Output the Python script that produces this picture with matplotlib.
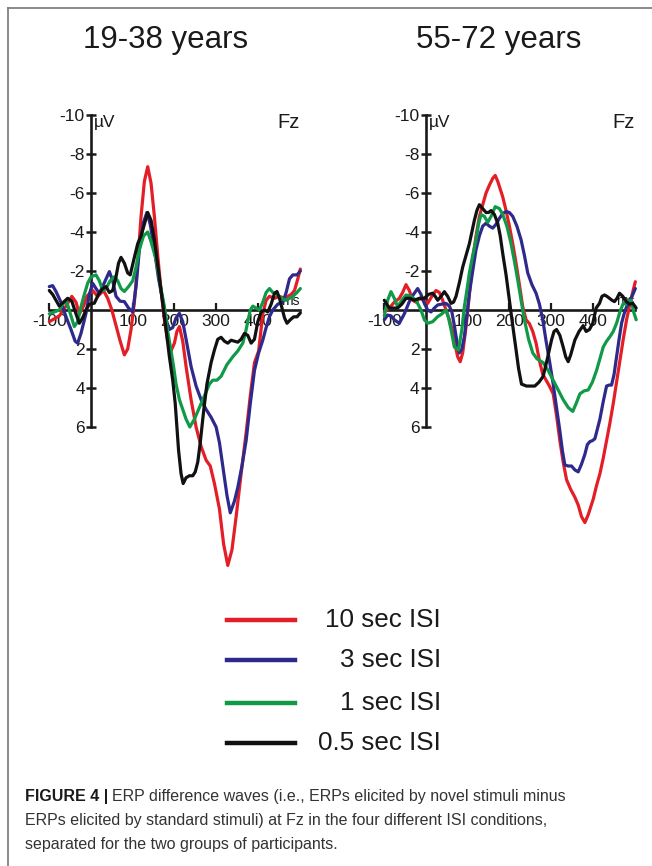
import matplotlib
matplotlib.use("Agg")
import matplotlib.pyplot as plt
from matplotlib.lines import Line2D
from matplotlib import font_manager

plt.rcParams['font.family'] = ['Liberation Sans', 'DejaVu Sans']

# ---- data (ms, µV) ----
young_10s_t = [-100, -88, -76, -60, -46, -36, -28, -18, -10, 4, 16, 30, 40, 50, 60, 70, 80, 88, 96, 104, 112, 120,
               128, 136, 144, 152, 160, 168, 176, 184, 192, 200, 206, 212, 220, 228, 240, 252, 264, 276, 286, 296,
               308, 318, 328, 338, 348, 360, 372, 382, 392, 402, 412, 420, 428, 440, 452, 464, 472, 480, 488, 496, 502]
young_10s_v = [0.6, 0.45, 0.3, -0.2, -0.7, -0.4, 0.2, -0.2, -0.7, -1.0, -0.7, -1.0, -0.6, 0.0, 0.8, 1.6, 2.3, 2.0,
               1.0, -0.4, -2.4, -4.8, -6.6, -7.35, -6.5, -4.8, -2.8, -1.0, 0.5, 1.6, 2.1, 1.7, 1.1, 0.85, 1.6, 2.9,
               4.6, 6.0, 7.0, 7.7, 8.0, 8.9, 10.2, 12.0, 13.1, 12.3, 10.6, 8.4, 6.3, 4.4, 2.7, 2.1, 0.2, -0.5, -0.7,
               -0.6, -0.7, -0.6, -0.7, -0.8, -1.0, -1.6, -2.1]

young_3s_t = [-100, -92, -84, -72, -60, -48, -38, -32, -24, -12, -4, 4, 12, 20, 32, 44, 52, 60, 70, 80, 90, 100,
              108, 116, 126, 134, 142, 152, 162, 172, 180, 188, 196, 204, 212, 220, 228, 240, 252, 264, 276, 288,
              300, 308, 316, 326, 334, 344, 352, 362, 372, 382, 392, 402, 412, 420, 428, 436, 448, 460, 468, 476,
              484, 494, 502]
young_3s_v = [-1.2, -1.25, -0.95, -0.4, 0.34, 1.0, 1.6, 1.7, 1.2, 0.17, -0.8, -1.37, -1.1, -0.85, -1.4, -1.97, -1.5,
              -0.7, -0.45, -0.43, -0.1, 0.1, -1.2, -3.1, -4.5, -5.0, -4.4, -3.1, -1.6, -0.5, 0.5, 1.0, 0.9, 0.4,
              0.17, 0.6, 1.5, 2.9, 3.9, 4.6, 5.1, 5.5, 6.0, 6.8, 8.0, 9.5, 10.4, 9.8, 9.1, 8.0, 6.7, 4.8, 3.1, 2.2,
              1.54, 0.9, 0.34, 0.0, -0.3, -0.4, -0.9, -1.6, -1.8, -1.8, -2.0]

young_1s_t = [-100, -88, -76, -66, -58, -48, -40, -32, -24, -16, -8, 0, 12, 20, 28, 36, 46, 56, 64, 72, 80, 90,
              100, 108, 116, 126, 136, 144, 156, 166, 176, 184, 192, 198, 204, 212, 220, 228, 237, 248, 260, 272,
              284, 292, 302, 312, 326, 340, 352, 364, 370, 376, 382, 388, 396, 404, 412, 420, 428, 436, 444, 456,
              468, 476, 484, 494, 502]
young_1s_v = [0.2, 0.1, 0.0, -0.35, -0.4, 0.3, 0.85, 0.6, -0.17, -0.8, -1.37, -1.7, -1.8, -1.5, -1.0, -1.1, -1.5,
              -1.7, -1.5, -1.1, -0.95, -1.2, -1.5, -2.2, -3.1, -3.8, -4.0, -3.5, -2.6, -1.3, -0.17, 1.1, 2.1, 2.9,
              3.8, 4.6, 5.1, 5.6, 6.0, 5.6, 5.0, 4.4, 3.8, 3.6, 3.6, 3.4, 2.8, 2.4, 2.1, 1.7, 1.2, 0.6, 0.0, -0.2,
              -0.1, 0.0, -0.4, -0.9, -1.1, -0.9, -0.85, -0.6, -0.5, -0.6, -0.7, -0.9, -1.1]

young_05s_t = [-100, -92, -84, -76, -66, -56, -46, -36, -28, -20, -12, -4, 8, 18, 28, 36, 44, 52, 60, 66, 72, 80,
               88, 94, 104, 112, 120, 128, 136, 144, 152, 162, 172, 180, 188, 196, 202, 210, 216, 221, 228, 236,
               244, 250, 256, 262, 270, 278, 288, 296, 304, 312, 320, 328, 336, 344, 352, 360, 368, 376, 384, 392,
               400, 408, 416, 424, 432, 440, 446, 452, 458, 464, 470, 478, 486, 494, 502]
young_05s_v = [-1.0, -0.8, -0.5, -0.2, -0.4, -0.6, -0.45, 0.2, 0.68, 0.4, 0.0, -0.3, -0.35, -0.8, -1.1, -1.2, -0.9,
               -1.0, -1.7, -2.4, -2.7, -2.4, -1.9, -1.8, -2.7, -3.4, -3.8, -4.4, -5.0, -4.6, -3.6, -2.0, -0.34, 1.0,
               2.4, 3.6, 4.8, 7.2, 8.4, 8.9, 8.6, 8.5, 8.5, 8.3, 7.8, 6.8, 5.2, 3.8, 2.7, 2.05, 1.5, 1.4, 1.6, 1.7,
               1.55, 1.6, 1.65, 1.5, 1.2, 1.3, 1.7, 1.5, 0.6, 0.1, 0.0, 0.1, -0.3, -0.85, -0.95, -0.6, -0.1, 0.4,
               0.68, 0.5, 0.35, 0.35, 0.15]

old_10s_t = [-100, -88, -76, -64, -56, -48, -40, -32, -24, -16, -6, 4, 14, 24, 32, 40, 48, 56, 64, 70, 76, 82, 88,
             96, 104, 112, 120, 128, 136, 144, 152, 160, 166, 172, 178, 184, 192, 200, 208, 216, 224, 232, 240,
             248, 256, 264, 272, 280, 288, 296, 305, 313, 321, 329, 337, 347, 357, 365, 373, 381, 389, 401, 409,
             417, 425, 433, 441, 449, 457, 465, 473, 481, 488, 496, 502]
old_10s_v = [0.1, -0.1, -0.4, -0.6, -0.9, -1.3, -1.0, -0.5, -0.4, -0.6, -0.5, -0.34, -0.7, -1.0, -0.9, -0.5, 0.0,
             0.5, 1.1, 1.8, 2.4, 2.65, 2.2, 0.86, -0.8, -2.6, -3.8, -4.8, -5.4, -6.0, -6.4, -6.75, -6.9, -6.6,
             -6.2, -5.8, -5.1, -4.3, -3.4, -2.4, -1.3, -0.17, 0.5, 0.7, 1.1, 1.7, 2.6, 3.3, 3.6, 3.9, 4.3, 5.4,
             6.7, 7.8, 8.7, 9.2, 9.6, 10.0, 10.6, 10.9, 10.5, 9.7, 9.0, 8.4, 7.6, 6.7, 5.8, 4.8, 3.7, 2.6, 1.5,
             0.5, -0.2, -0.94, -1.45]

old_3s_t = [-100, -92, -84, -76, -64, -52, -40, -30, -20, -12, -4, 4, 12, 20, 28, 38, 48, 56, 62, 68, 74, 80, 86,
            92, 98, 104, 112, 120, 128, 136, 144, 152, 160, 168, 176, 184, 192, 200, 208, 218, 228, 236, 244, 254,
            264, 272, 280, 288, 296, 305, 313, 321, 327, 333, 341, 349, 357, 365, 373, 381, 387, 393, 399, 405,
            411, 417, 425, 433, 439, 445, 451, 457, 463, 469, 475, 481, 488, 496, 502]
old_3s_v = [0.5, 0.26, 0.3, 0.5, 0.68, 0.2, -0.43, -0.8, -1.1, -0.8, -0.34, 0.0, 0.1, -0.1, -0.26, -0.3, -0.34,
            -0.2, 0.1, 0.8, 1.6, 2.2, 2.0, 1.37, 0.3, -0.86, -2.0, -3.1, -3.8, -4.3, -4.45, -4.3, -4.2, -4.4, -4.7,
            -4.95, -5.05, -5.0, -4.8, -4.3, -3.6, -2.8, -1.9, -1.3, -0.86, -0.3, 0.5, 1.6, 2.6, 3.8, 5.0, 6.2,
            7.2, 7.95, 8.0, 8.0, 8.2, 8.3, 7.9, 7.4, 6.9, 6.75, 6.7, 6.6, 6.1, 5.6, 4.7, 3.9, 3.85, 3.85, 3.3,
            2.4, 1.5, 0.68, 0.2, -0.17, -0.43, -0.8, -1.1]

old_1s_t = [-100, -92, -84, -76, -68, -58, -48, -36, -24, -12, -4, 4, 16, 28, 38, 48, 54, 60, 68, 78, 86, 92, 98,
            104, 112, 120, 126, 132, 140, 148, 156, 166, 176, 184, 194, 204, 212, 220, 228, 236, 246, 256, 266,
            281, 293, 305, 317, 329, 341, 352, 360, 369, 379, 389, 399, 409, 417, 425, 433, 441, 449, 457, 465,
            473, 480, 486, 492, 498, 504]
old_1s_v = [0.3, -0.5, -0.94, -0.6, -0.17, -0.5, -0.77, -0.7, -0.5, 0.0, 0.5, 0.68, 0.6, 0.34, 0.2, 0.0, 0.4, 1.0,
            1.9, 2.05, 1.0, -0.17, -1.0, -1.9, -2.8, -3.6, -4.4, -4.9, -4.8, -4.5, -4.8, -5.3, -5.2, -4.9, -4.3,
            -3.4, -2.5, -1.54, -0.5, 0.5, 1.5, 2.2, 2.5, 2.7, 3.1, 3.6, 4.1, 4.6, 5.0, 5.2, 4.8, 4.3, 4.15, 4.1,
            3.7, 3.1, 2.5, 1.9, 1.6, 1.37, 1.1, 0.68, 0.1, -0.34, -0.3, -0.45, -0.5, 0.1, 0.5]

old_05s_t = [-100, -94, -88, -78, -68, -58, -48, -38, -28, -16, -4, 6, 16, 22, 28, 36, 44, 52, 60, 66, 72, 80, 88,
             96, 104, 110, 116, 122, 128, 136, 144, 150, 156, 164, 172, 178, 184, 192, 200, 208, 216, 222, 229,
             241, 251, 261, 271, 281, 291, 301, 307, 313, 321, 329, 335, 341, 347, 357, 367, 377, 384, 392, 400,
             408, 416, 422, 428, 434, 440, 446, 452, 458, 464, 472, 480, 488, 496, 504]
old_05s_v = [-0.5, -0.3, -0.1, -0.1, -0.1, -0.3, -0.6, -0.6, -0.5, -0.6, -0.6, -0.8, -0.86, -0.7, -0.5, -0.7,
             -0.94, -0.7, -0.34, -0.4, -0.7, -1.4, -2.2, -2.8, -3.4, -4.0, -4.6, -5.1, -5.4, -5.2, -5.0, -5.0,
             -5.1, -4.9, -4.45, -3.8, -2.9, -1.8, -0.5, 0.8, 2.05, 3.0, 3.8, 3.9, 3.9, 3.9, 3.7, 3.4, 2.5, 1.54,
             1.1, 1.0, 1.3, 1.9, 2.4, 2.65, 2.3, 1.54, 1.1, 0.8, 1.1, 1.0, 0.68, -0.1, -0.34, -0.7, -0.77, -0.7,
             -0.6, -0.5, -0.43, -0.6, -0.86, -0.7, -0.43, -0.3, -0.34, -0.1]

conditions = ["10 sec ISI", "3 sec ISI", "1 sec ISI", "0.5 sec ISI"]
colors = ["#e41e26", "#2e2a8c", "#109a48", "#111111"]
groups = ["19-38 years", "55-72 years"]
young = [(young_10s_t, young_10s_v), (young_3s_t, young_3s_v), (young_1s_t, young_1s_v), (young_05s_t, young_05s_v)]
old = [(old_10s_t, old_10s_v), (old_3s_t, old_3s_v), (old_1s_t, old_1s_v), (old_05s_t, old_05s_v)]

y_ticks = [-10, -8, -6, -4, -2, 2, 4, 6]
x_ticks = [-100, 100, 200, 300, 400]

W, H = 652, 866
fig = plt.figure(figsize=(W / 100, H / 100), dpi=100)

# px per unit: 0.417 px/ms, 19.5 px/µV; zero line at y=310
xlo, xhi = -120, 520
ylo, yhi = -10.6, 14.2
ax_w = (xhi - xlo) * 0.417 / W
ax_b = 1 - (310 + yhi * 19.5) / H
ax_h = (yhi - ylo) * 19.5 / H
origins = [91, 426]
title_x = [165.5, 498.5]

for k, (data, x0) in enumerate(zip([young, old], origins)):
    ax = fig.add_axes([(x0 + xlo * 0.417) / W, ax_b, ax_w, ax_h])
    ax.set_xlim(xlo, xhi)
    ax.set_ylim(yhi, ylo)
    ax.patch.set_alpha(0)
    for s in ['top', 'right']:
        ax.spines[s].set_visible(False)
    ax.spines['left'].set_position(('data', 0))
    ax.spines['bottom'].set_position(('data', 0))
    ax.spines['left'].set_bounds(-10, 6)
    ax.spines['bottom'].set_bounds(-100, 500)
    for s in ['left', 'bottom']:
        ax.spines[s].set_linewidth(1.9)
        ax.spines[s].set_color('#1a1a1a')
    ax.set_yticks(y_ticks)
    ax.set_yticklabels([str(v) for v in y_ticks])
    ax.set_xticks(x_ticks)
    ax.set_xticklabels([str(v) for v in x_ticks])
    ax.tick_params(axis='y', direction='inout', length=7, width=1.8, labelsize=12.5, pad=1, colors='#1a1a1a')
    ax.tick_params(axis='x', direction='in', length=5, width=1.6, labelsize=12.5, pad=3, colors='#1a1a1a')
    ax.text(8, -9.6, "µV", fontsize=12.5, ha='left', va='center', color='#1a1a1a')
    ax.text(473, -9.6, "Fz", fontsize=14.5, ha='center', va='center', color='#1a1a1a')
    ax.text(478, -0.45, "ms", fontsize=10, ha='center', va='center', color='#1a1a1a', zorder=1)
    for (t, v), c in zip(data, colors):
        ax.plot(t, v, color=c, lw=2.3, solid_joinstyle='round', solid_capstyle='round', zorder=3)
    fig.text(title_x[k] / W, 1 - 40 / H, groups[k], fontsize=22.5, ha='center', va='center', color='#1a1a1a')

# legend
leg_y = [620, 660, 703, 743]
for lab, c, yy in zip(conditions, colors, leg_y):
    fig.add_artist(Line2D([227 / W, 295 / W], [1 - yy / H, 1 - yy / H], color=c, lw=3.2))
    fig.text(441 / W, 1 - yy / H, lab, fontsize=18.7, ha='right', va='center', color='#1a1a1a')

# frame
fig.add_artist(Line2D([7.5 / W, 1.0], [1 - 8 / H, 1 - 8 / H], color='#777777', lw=1.2))
fig.add_artist(Line2D([7.5 / W, 7.5 / W], [0.0, 1 - 8 / H], color='#777777', lw=1.2))

# caption
names = {f.name for f in font_manager.fontManager.ttflist}
cap_font = ['Liberation Sans Narrow'] if 'Liberation Sans Narrow' in names else ['Liberation Sans']
cap_size = 13.2 if cap_font[0] == 'Liberation Sans Narrow' else 11.5
cap_lines = ["ERP difference waves (i.e., ERPs elicited by novel stimuli minus",
             "ERPs elicited by standard stimuli) at Fz in the four different ISI conditions,",
             "separated for the two groups of participants."]
cap_y = [796, 820, 844]
bold = fig.text(25 / W, 1 - cap_y[0] / H, "FIGURE 4 |", family=cap_font, fontsize=cap_size, weight='bold',
                ha='left', va='center', color='#1a1a1a')
r = fig.canvas.get_renderer()
bx = bold.get_window_extent(r).x1 / W + 4 / W
fig.text(bx, 1 - cap_y[0] / H, cap_lines[0], family=cap_font, fontsize=cap_size, ha='left', va='center',
         color='#333333')
for line, yy in zip(cap_lines[1:], cap_y[1:]):
    fig.text(25 / W, 1 - yy / H, line, family=cap_font, fontsize=cap_size, ha='left', va='center', color='#333333')

fig.savefig("out.png", dpi=100)
